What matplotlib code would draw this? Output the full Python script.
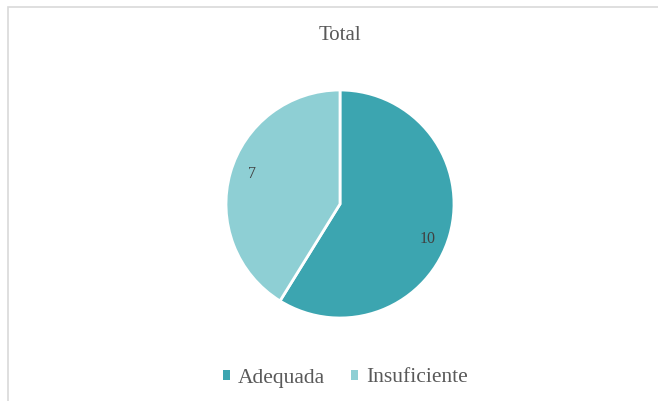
import matplotlib
matplotlib.use("Agg")
import matplotlib.pyplot as plt
from matplotlib.patches import Rectangle

categories = ["Adequada", "Insuficiente"]
values = [10, 7]
colors = ["#3CA5B0", "#8ECFD4"]
title = "Total"

plt.rcParams['font.family'] = ['Liberation Serif', 'DejaVu Serif']
text_color = "#595959"

fig = plt.figure(figsize=(6.58, 4.01), dpi=100)
fig.patch.set_facecolor("white")

# chart border (top and left visible)
fig.patches.append(Rectangle((8/658, -0.1), 1.2, (401-7)/401 + 0.1, transform=fig.transFigure,
                             fill=False, edgecolor="#D9D9D9", linewidth=1.2))

ax = fig.add_axes([(340-114)/658, (197-114)/401, 228/658, 228/401])
wedges, texts, autotexts = ax.pie(values, colors=colors, startangle=90, counterclock=False,
                                  autopct=lambda p: f"{round(p*sum(values)/100):d}",
                                  pctdistance=0.83,
                                  wedgeprops=dict(edgecolor="white", linewidth=2),
                                  textprops=dict(color="#404040", fontsize=11.5))
# slight nudges of label positions (Excel-like placement)
x, y = autotexts[0].get_position()
autotexts[0].set_position((x - 0.03, y - 0.08))
x, y = autotexts[1].get_position()
autotexts[1].set_position((x + 0.03, y + 0.04))
ax.set_xlim(-1, 1)
ax.set_ylim(-1, 1)
ax.set_aspect("equal")

fig.text(340/658, 1 - 35.5/401, title, ha="center", va="center", fontsize=15, color=text_color)

leg = fig.legend(wedges, categories, loc="center", bbox_to_anchor=(345/658, 1 - 378/401),
                 ncol=2, frameon=False, fontsize=15.5, handlelength=0.35, handleheight=0.35,
                 handletextpad=0.35, columnspacing=1.2, labelcolor=text_color)
for h in leg.legend_handles:
    h.set_linewidth(0)

fig.savefig("out.png", dpi=100)
